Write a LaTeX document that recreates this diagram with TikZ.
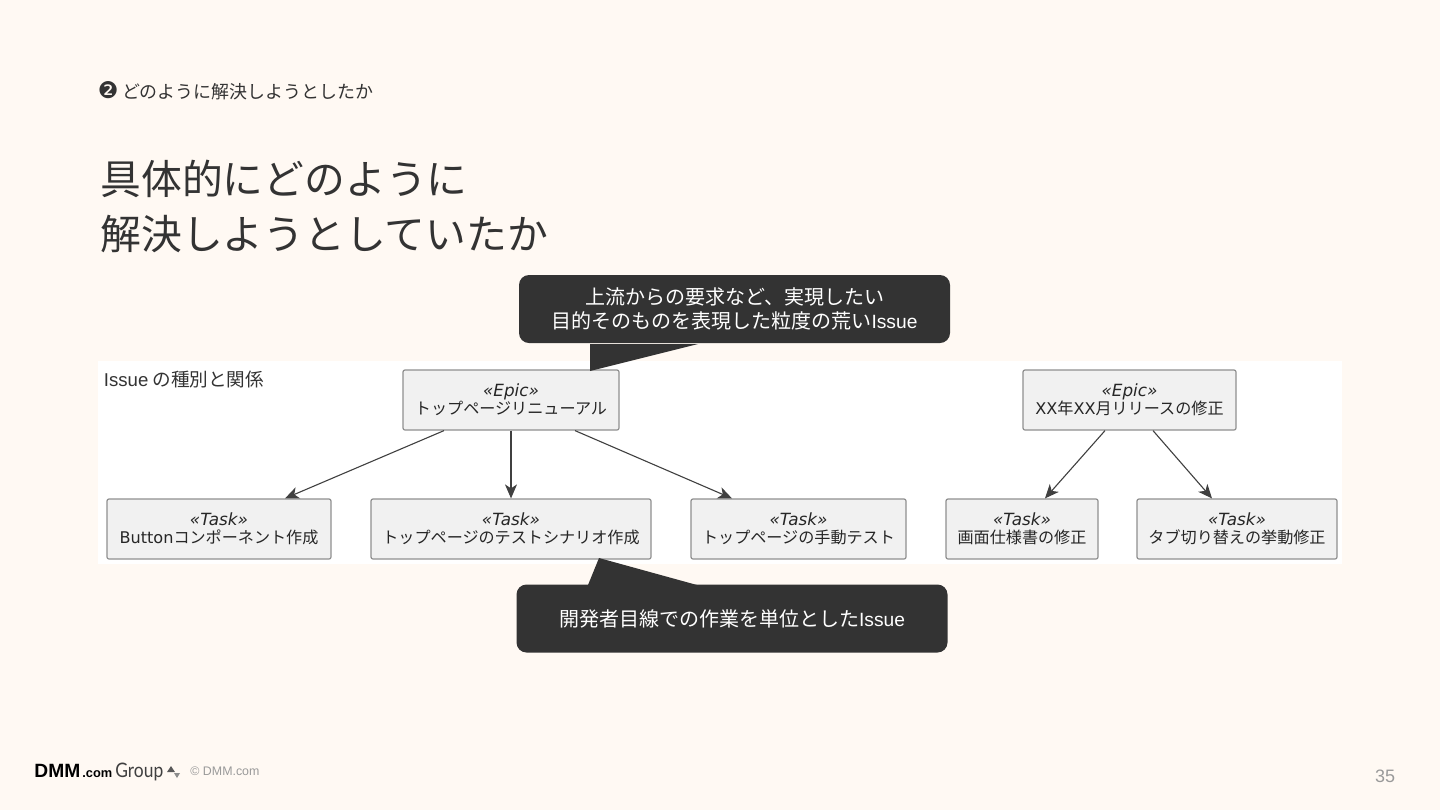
\documentclass[tikz,border=0pt]{standalone}
\usepackage{fontspec}
\usepackage{graphicx}
\setmainfont{Noto Sans CJK JP}
\newfontfamily\latinfont{Liberation Sans}
\newfontfamily\umlfont{DejaVu Sans}
\newfontfamily\logofont{Lato}
\usetikzlibrary{arrows.meta}
\definecolor{pagebg}{HTML}{FFF9F3}
\definecolor{ink}{HTML}{333333}
\definecolor{boxfill}{HTML}{F1F1F1}
\definecolor{boxline}{HTML}{8F8F8F}
\definecolor{footgrey}{HTML}{9A9A9A}

\begin{document}
\begin{tikzpicture}[
    x=0.5pt, y=-0.5pt,
    >={Stealth[length=7pt,width=6pt,inset=2pt]},
    umlbox/.style={draw=boxline, fill=boxfill, line width=0.6pt, rounded corners=1pt,
      minimum height=30pt, inner sep=0pt, align=center, text=black!85,
      font=\fontsize{8.05}{9}\selectfont},
    callout/.style={fill=ink, rounded corners=5pt, minimum height=34pt, inner sep=0pt,
      align=center, text=white, font=\fontsize{10}{12}\selectfont},
    tail/.style={fill=ink},
    link/.style={->, draw=black!75, line width=0.55pt},
    head/.style={anchor=west, text=ink, inner sep=0pt},
    logo/.style={anchor=base west, inner sep=0pt}
]

  % pagina
  \fill[pagebg] (0,0) rectangle (1440,810);
  \useasboundingbox (0,0) rectangle (1440,810);

  % intestazione
  \node[head, font=\fontsize{8.97}{11}\selectfont] (section) at (97.5,91)
    {{\umlfont\fontsize{11.5}{11}\selectfont ❷}\hspace{1.75pt}どのように解決しようとしたか};
  \node[head, font=\fontsize{20.4}{27.5}\selectfont] (title) at (100,206)
    [align=left] {具体的にどのように\\解決しようとしていたか};

  % pannello bianco
  \fill[white] (98,361) rectangle (1342,564);
  \node[head, font=\fontsize{9.3}{11}\selectfont] (panel) at (103.5,379.5)
    {{\latinfont Issue} の種別と関係};

  % nodi epic
  \node[umlbox, minimum width=108pt] (epicA) at (511,400)
    {{\umlfont\itshape\fontsize{8.4}{9}\selectfont «Epic»}\\トップページリニューアル};
  \node[umlbox, minimum width=106.5pt] (epicB) at (1129.5,400)
    {{\umlfont\itshape\fontsize{8.4}{9}\selectfont «Epic»}\\{\umlfont XX}年{\umlfont XX}月リリースの修正};

  % nodi task
  \node[umlbox, minimum width=112pt] (taskA) at (219,529)
    {{\umlfont\itshape\fontsize{8.4}{9}\selectfont «Task»}\\{\umlfont Button}コンポーネント作成};
  \node[umlbox, minimum width=140pt] (taskB) at (511,529)
    {{\umlfont\itshape\fontsize{8.4}{9}\selectfont «Task»}\\トップページのテストシナリオ作成};
  \node[umlbox, minimum width=107.5pt] (taskC) at (798.5,529)
    {{\umlfont\itshape\fontsize{8.4}{9}\selectfont «Task»}\\トップページの手動テスト};
  \node[umlbox, minimum width=76pt] (taskD) at (1022,529)
    {{\umlfont\itshape\fontsize{8.4}{9}\selectfont «Task»}\\画面仕様書の修正};
  \node[umlbox, minimum width=100pt] (taskE) at (1237,529)
    {{\umlfont\itshape\fontsize{8.4}{9}\selectfont «Task»}\\タブ切り替えの挙動修正};

  % frecce
  \draw[link] ([xshift=-33.5pt]epicA.south) -- ([xshift=33pt]taskA.north);
  \draw[link] (epicA) -- (taskB);
  \draw[link] ([xshift=32pt]epicA.south) -- ([xshift=-33.25pt]taskC.north);
  \draw[link] ([xshift=-12.25pt]epicB.south) -- ([xshift=11.5pt]taskD.north);
  \draw[link] ([xshift=11.75pt]epicB.south) -- ([xshift=-12.5pt]taskE.north);

  % fumetti
  \fill[tail] (590,344) -- (590,371) -- (698,344) -- cycle;
  \node[callout, minimum width=215.5pt] (noteEpic) at (734.5,309)
    {上流からの要求など、実現したい\\目的そのものを表現した粒度の荒い{\latinfont\fontsize{9.6}{12}\selectfont Issue}};
  \fill[tail] (588,585) -- (599,558) -- (697,585) -- cycle;
  \node[callout, minimum width=215.5pt] (noteTask) at (732,618.5)
    {開発者目線での作業を単位とした{\latinfont\fontsize{9.6}{12}\selectfont Issue}};

  % piede
  \node[logo, text=black, font=\latinfont\bfseries\fontsize{9.6}{12}\selectfont] (logoA) at (34,777) {DMM};
  \node[logo, text=black, font=\latinfont\bfseries\fontsize{6.4}{8}\selectfont] (logoB) at (82,777) {.com};
  \node[logo, text=black!75, font=\logofont\fontsize{10}{12}\selectfont] (logoC) at (115,777) {\scalebox{0.87}[1]{Group}};
  \fill[black!65] (167,772) -- (171,766) -- (175,772) -- cycle;
  \fill[black!45] (174,773) -- (180,773) -- (177,778) -- cycle;
  \node[anchor=west, inner sep=0pt, text=footgrey, font=\latinfont\fontsize{6.2}{8}\selectfont] (copy) at (190,771) {© DMM.com};
  \node[inner sep=0pt, text=footgrey, font=\latinfont\fontsize{9}{11}\selectfont] (page) at (1385,776) {35};

\end{tikzpicture}
\end{document}
